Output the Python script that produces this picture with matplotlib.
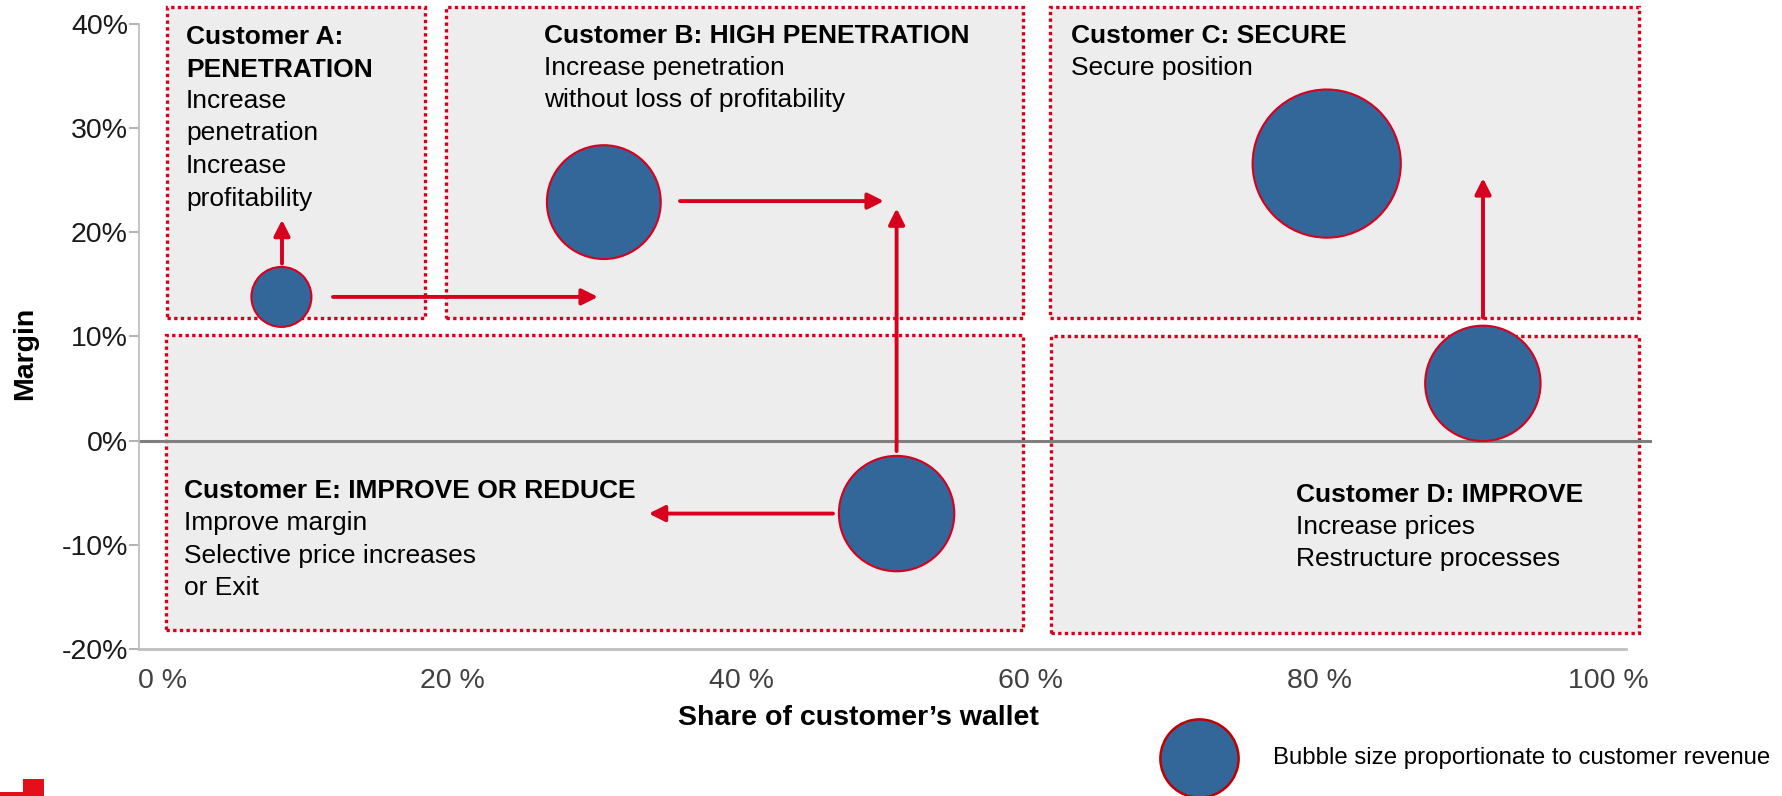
import numpy as np
import matplotlib
matplotlib.use('Agg')
import matplotlib.pyplot as plt
from matplotlib.patches import Rectangle

plt.rcParams['font.family'] = ['Liberation Sans', 'DejaVu Sans']

W, H = 1782, 796

# customers (share of wallet %, margin %, relative revenue -> bubble area)
share = [8.2, 30.5, 80.5, 91.3, 50.75]
margin = [13.8, 22.9, 26.6, 5.5, -7.0]
revenue = [1.0, 3.6, 6.1, 3.7, 3.7]
legend_revenue = 1.7

# segment boxes (x from, x to, y from, y to)
seg_x0 = [0.31, 19.6, 61.33, 61.43, 0.21]
seg_x1 = [18.13, 59.47, 102.08, 102.08, 59.47]
seg_y0 = [11.8, 11.8, 11.8, -18.5, -18.2]
seg_y1 = [41.6, 41.6, 41.6, 10.0, 10.1]

headings = ['Customer A:\nPENETRATION', 'Customer B: HIGH PENETRATION',
            'Customer C: SECURE', 'Customer D: IMPROVE',
            'Customer E: IMPROVE OR REDUCE']
bodies = ['Increase\npenetration\nIncrease\nprofitability',
          'Increase penetration\nwithout loss of profitability',
          'Secure position',
          'Increase prices\nRestructure processes',
          'Improve margin\nSelective price increases\nor Exit']
label_x = [1.6, 26.36, 62.8, 78.38, 1.45]
label_y = [39.9, 40.0, 40.0, -4.05, -3.7]

# moves
arrow_from = [(8.24, 17.0), (11.77, 13.8), (35.77, 23.0), (50.75, -1.0), (46.35, -7.0), (91.31, 11.8)]
arrow_to = [(8.24, 21.2), (30.09, 13.8), (49.87, 23.0), (50.75, 22.3), (33.61, -7.0), (91.31, 25.2)]

x_ticks = [0, 20, 40, 60, 80, 100]
y_ticks = [-20, -10, 0, 10, 20, 30, 40]

RED = '#D7001E'
BLUE = '#336699'
BOXFILL = '#EDEDED'
SIZE_UNIT = (60 * 0.72) ** 2   # area of a revenue-1 bubble in pt^2

fig = plt.figure(figsize=(W / 100, H / 100), dpi=100)
ax = fig.add_axes([139 / W, 1 - 649 / H, 1487 / W, 625 / H])
ax.set_xlim(-1.65, 101.2)
ax.set_ylim(-20, 40)

for x0, x1, y0, y1 in zip(seg_x0, seg_x1, seg_y0, seg_y1):
    ax.add_patch(Rectangle((x0, y0), x1 - x0, y1 - y0, facecolor=BOXFILL,
                           edgecolor=RED, lw=2.4, linestyle=(0, (1, 1)),
                           clip_on=False, zorder=1))

ax.plot([-1.65, 102.87], [0, 0], color='#7F7F7F', lw=2.2, clip_on=False, zorder=2)

for (x0, y0), (x1, y1) in zip(arrow_from, arrow_to):
    ax.annotate('', xy=(x1, y1), xytext=(x0, y0),
                arrowprops=dict(arrowstyle='-|>,head_length=0.95,head_width=0.48',
                                mutation_scale=10, color=RED, lw=2.8,
                                shrinkA=0, shrinkB=0),
                zorder=3)

ax.scatter(share, margin, s=np.array(revenue) * SIZE_UNIT, c=BLUE,
           edgecolors=RED, linewidths=1.5, zorder=4, clip_on=False)

for head, body, x, y in zip(headings, bodies, label_x, label_y):
    ax.text(x, y, head, fontsize=19, fontweight='bold', va='top', ha='left',
            linespacing=1.45, zorder=5)
    n = head.count('\n') + 1
    ax.annotate(body, xy=(x, y), xytext=(0, -23.0 * n), textcoords='offset points',
                fontsize=19, va='top', ha='left', linespacing=1.45, zorder=5)

ax.set_xticks(x_ticks)
ax.set_xticklabels([f'{v} %' for v in x_ticks])
ax.set_yticks(y_ticks)
ax.set_yticklabels([f'{v}%' for v in y_ticks])
ax.tick_params(axis='x', length=0, pad=14, labelsize=20.5, labelcolor='#404040')
ax.tick_params(axis='y', length=7, width=1.2, color='#A6A6A6', pad=1,
               labelsize=20.5, labelcolor='#1A1A1A')
for side in ['top', 'right']:
    ax.spines[side].set_visible(False)
ax.spines['left'].set_color('#BFBFBF')
ax.spines['left'].set_linewidth(1.3)
ax.spines['bottom'].set_color('#BFBFBF')
ax.spines['bottom'].set_linewidth(2)
ax.set_facecolor('none')

ax.set_xlabel('Share of customer\u2019s wallet', fontsize=20.5, fontweight='bold', va='center')
ax.xaxis.set_label_coords((858 - 139) / 1487, (649 - 718) / 625)
ax.set_ylabel('Margin', fontsize=20.5, fontweight='bold', va='center')
ax.yaxis.set_label_coords((25 - 139) / 1487, (649 - 353) / 625)

# legend and corner logo, in pixel space
ov = fig.add_axes([0, 0, 1, 1])
ov.set_xlim(0, W)
ov.set_ylim(H, 0)
ov.axis('off')
ov.scatter([1199], [758], s=legend_revenue * SIZE_UNIT, c=BLUE, edgecolors='#C00000',
           linewidths=1.8, clip_on=False)
ov.text(1273, 758, 'Bubble size proportionate to customer revenue', fontsize=17.3,
        va='center', ha='left')
ov.add_patch(Rectangle((23, 779), 21, 17, color='#E3101A', lw=0))
ov.add_patch(Rectangle((0, 792), 23, 4, color='#E3101A', lw=0))

fig.savefig('out.png', dpi=100)
